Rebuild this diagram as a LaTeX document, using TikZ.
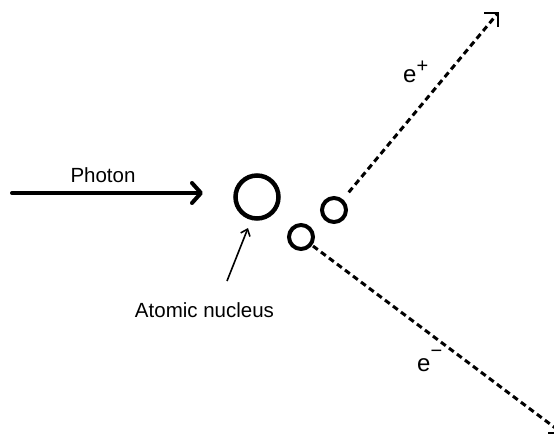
\documentclass[tikz,border=0pt]{standalone}
\usepackage{fontspec}
\setmainfont{Liberation Sans}
\usetikzlibrary{arrows.meta,calc}
\begin{document}
\begin{tikzpicture}[x=1pt,y=-1pt,
  ring/.style={draw, circle, inner sep=0pt, outer sep=0pt},
  track/.style={line width=3pt, dash pattern=on 6pt off 4pt},
  tipline/.style={line width=2.5pt, line join=miter},
  lbl/.style={inner sep=0pt, anchor=base, font=\fontsize{20.5}{24}\selectfont},
  elbl/.style={inner sep=0pt, anchor=base west, font=\fontsize{24}{28}\selectfont}]
\useasboundingbox (0,0) rectangle (554,436);
\clip (0,0) rectangle (554,436);
% particles
\node[ring, line width=4.5pt, minimum size=43pt] (nucleus) at (257,197) {};
\node[ring, line width=4pt, minimum size=24pt] (pos) at (334,210) {};
\node[ring, line width=4pt, minimum size=24pt] (ele) at (301,237) {};
% photon
\coordinate (photonstart) at (12,193);
\coordinate (photontip) at (203,193);
\draw[line width=4pt, line cap=round, -{Straight Barb[length=9pt,width=20pt,round]}] (photonstart) -- (photontip);
\node[lbl] (photonlbl) at (103,182) {Photon};
% nucleus label and pointer
\node[lbl] (nuclbl) at (204.5,317) {Atomic nucleus};
\coordinate (ptrstart) at (227,281);
\coordinate (ptrtip) at (248,228);
\draw[line width=1.6pt, -{Straight Barb[length=6pt,width=10pt]}] (ptrstart) -- (ptrtip);
% positron track
\coordinate (postip) at (498,13);
\draw[track, shorten <=11pt] (pos) -- (postip);
\draw[tipline] ($(postip)+(-14,0)$) -- (postip) -- ($(postip)+(0,14)$);
\node[elbl] (eplbl) at (403,82) {e\raisebox{10pt}{\fontsize{20}{20}\selectfont +}};
% electron track
\coordinate (eletip) at (562,433);
\draw[track, shorten <=3pt] (ele) -- (eletip);
\draw[tipline] ($(eletip)+(-14,0)$) -- (eletip) -- ($(eletip)+(0,-14)$);
\node[elbl] (emlbl) at (417,371) {e\raisebox{13.5pt}{\fontsize{20}{20}\selectfont\char"2212}};
\end{tikzpicture}
\end{document}
